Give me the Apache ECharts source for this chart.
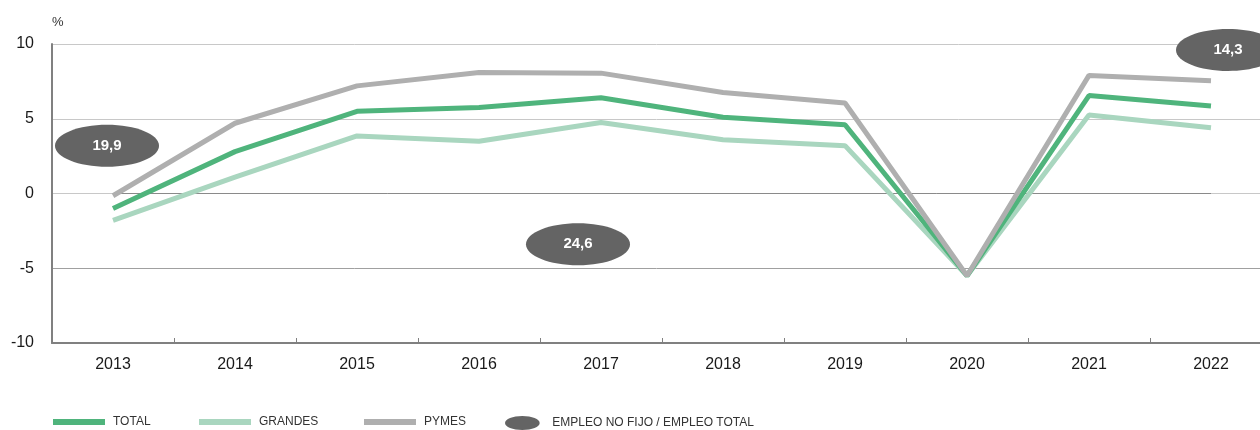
<!DOCTYPE html>
<html>
<head>
<meta charset="utf-8">
<script src="https://cdn.jsdelivr.net/npm/echarts@6/dist/echarts.min.js"></script>
<style>
  html, body { margin: 0; padding: 0; background: #fff; }
  #chart { width: 1260px; height: 430px; }
</style>
</head>
<body>
<div id="chart"></div>
<script>
// years on the x axis
var years = ['2013', '2014', '2015', '2016', '2017', '2018', '2019', '2020', '2021', '2022'];

// variacion del empleo, %
var total   = [-1.0, 2.8, 5.5, 5.75, 6.4, 5.1, 4.6, -5.5, 6.55, 5.85];
var grandes = [-1.8, 1.1, 3.85, 3.5, 4.75, 3.6, 3.2, -5.5, 5.25, 4.4];
var pymes   = [-0.15, 4.7, 7.2, 8.1, 8.05, 6.75, 6.05, -5.5, 7.9, 7.55];

// empleo no fijo / empleo total (the grey bubbles)
var noFijoYears  = ['2013', '2017', '2022'];
var noFijoValues = [19.9, 24.6, 14.3];

// where each bubble sits (height on the % scale, horizontal nudge in px)
var bubbleHeight = [3.2, -3.4, 9.6];
var bubbleNudge  = [-6, -23, 17];

var FONT = '"Liberation Sans", Arial, sans-serif';
var ELLIPSE = 'path://M0 21 C0 9.4 23.3 0 52 0 C80.7 0 104 9.4 104 21 C104 32.6 80.7 42 52 42 C23.3 42 0 32.6 0 21 Z';

var bubbleData = noFijoYears.map(function (y, i) {
    return {
        value: [y, bubbleHeight[i], noFijoValues[i]],
        symbolOffset: [bubbleNudge[i], 0]
    };
});

function legendAt(left, name, icon, w, h) {
    return {
        left: left,
        top: 416,
        padding: 0,
        icon: icon,
        itemWidth: w,
        itemHeight: h,
        selectedMode: false,
        data: [name],
        textStyle: { fontFamily: FONT, fontSize: 12, color: '#333', padding: [0, 0, 0, 3] }
    };
}

var myChart = echarts.init(document.getElementById('chart'));

var option = {
    animation: false,
    textStyle: { fontFamily: FONT },
    grid: { left: 52, width: 1220, top: 44, height: 299, outerBoundsMode: 'none', containLabel: false },
    legend: [
        legendAt(53, 'TOTAL', 'rect', 52, 6),
        legendAt(199, 'GRANDES', 'rect', 52, 6),
        legendAt(364, 'PYMES', 'rect', 52, 6),
        legendAt(505, 'EMPLEO NO FIJO / EMPLEO TOTAL', ELLIPSE, 44, 14)
    ],
    xAxis: {
        type: 'category',
        data: years,
        boundaryGap: true,
        axisLine: { onZero: false, lineStyle: { color: '#808080', width: 2 } },
        axisTick: { show: true, inside: true, length: 5, lineStyle: { color: '#808080', width: 1 } },
        axisLabel: { color: '#1a1a1a', fontSize: 16, margin: 14, fontFamily: FONT },
        splitLine: { show: false }
    },
    yAxis: {
        type: 'value',
        min: -10,
        max: 10,
        interval: 5,
        name: '%',
        nameLocation: 'end',
        nameGap: 15,
        nameTextStyle: { color: '#333', fontSize: 13, align: 'left', fontFamily: FONT },
        axisLine: { show: true, lineStyle: { color: '#808080', width: 2 } },
        axisTick: { show: false },
        axisLabel: { color: '#1a1a1a', fontSize: 16, margin: 18, fontFamily: FONT },
        splitLine: { lineStyle: { color: ['#808080', '#a0a0a0', '#c8c8c8', '#c8c8c8', '#c8c8c8'], width: 1 } }
    },
    series: [
        {
            name: 'GRANDES',
            type: 'line',
            data: grandes,
            symbol: 'none',
            color: '#a9d6bf',
            lineStyle: { width: 5, color: '#a9d6bf' }
        },
        {
            name: 'TOTAL',
            type: 'line',
            data: total,
            symbol: 'none',
            color: '#4fb47c',
            lineStyle: { width: 5, color: '#4fb47c' },
            markLine: {
                z: 1,
                silent: true,
                symbol: 'none',
                label: { show: false },
                lineStyle: { color: '#8a8a8a', width: 1, type: 'solid' },
                data: [[{ coord: [-0.5, 0] }, { coord: ['2022', 0] }]]
            }
        },
        {
            name: 'PYMES',
            type: 'line',
            data: pymes,
            symbol: 'none',
            color: '#afafaf',
            lineStyle: { width: 5, color: '#afafaf' }
        },
        {
            name: 'EMPLEO NO FIJO / EMPLEO TOTAL',
            type: 'scatter',
            data: bubbleData,
            symbol: ELLIPSE,
            symbolSize: [104, 42],
            color: '#646464',
            itemStyle: { color: '#646464', opacity: 1 },
            label: {
                show: true,
                position: 'inside',
                color: '#fff',
                fontWeight: 'bold',
                fontSize: 15,
                fontFamily: FONT,
                formatter: function (p) {
                    return String(p.value[2]).replace('.', ',');
                }
            }
        }
    ]
};

myChart.setOption(option);
</script>
</body>
</html>
